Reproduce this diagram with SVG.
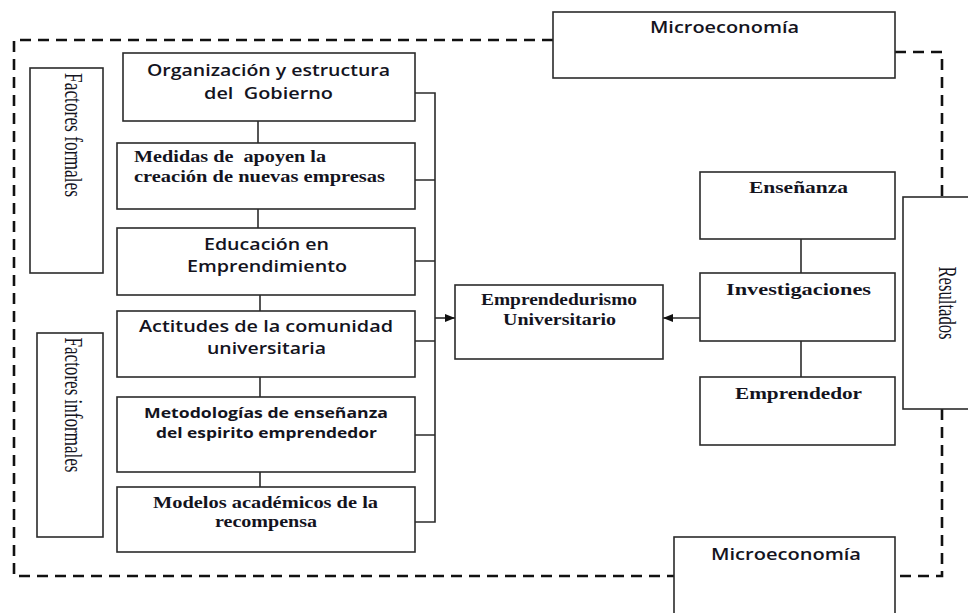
<svg xmlns="http://www.w3.org/2000/svg" width="968" height="613" viewBox="0 0 968 613">
<style>
.box{fill:#fff;stroke:#2b2b2b;stroke-width:1.6}
.ln{fill:none;stroke:#2b2b2b;stroke-width:1.6}
.dash{fill:none;stroke:#111;stroke-width:2.6;stroke-dasharray:11 7}
.s{font-family:"Open Sans","Liberation Sans",sans-serif;font-size:16px;font-weight:600;fill:#14141e}
.sb{font-family:"Open Sans","Liberation Sans",sans-serif;font-size:15px;font-weight:bold;fill:#14141e}
.r{font-family:"Liberation Serif","Times New Roman",serif;font-size:16px;font-weight:bold;fill:#14141e}
.rv{font-family:"Liberation Serif","Times New Roman",serif;font-size:17px;fill:#14141e}
</style>
<defs>
<marker id="ah" markerWidth="10" markerHeight="8" refX="10" refY="4" orient="auto" markerUnits="userSpaceOnUse">
<path d="M0,0 L10,4 L0,8 Z" fill="#111"/>
</marker>
</defs>
<rect width="968" height="613" fill="#fff"/>

<g id="frame">
<path class="dash" d="M553,40 H14 V576 H674"/>
<path class="dash" d="M895,52 H942 V197"/>
<path class="dash" d="M942,409 V576 H895"/>
</g>

<g id="connectors">
<line class="ln" x1="258" y1="121" x2="258" y2="143"/>
<line class="ln" x1="258" y1="209" x2="258" y2="228"/>
<line class="ln" x1="260" y1="295" x2="260" y2="311"/>
<line class="ln" x1="260" y1="377" x2="260" y2="397"/>
<line class="ln" x1="260" y1="472" x2="260" y2="487"/>
<path class="ln" d="M415,93 H435 V522 H415 M415,180 H435 M415,261 H435 M415,341 H435 M415,435 H435"/>
<line class="ln" x1="435" y1="318" x2="455" y2="318" marker-end="url(#ah)"/>
<line class="ln" x1="700" y1="318" x2="663" y2="318" marker-end="url(#ah)"/>
<line class="ln" x1="801" y1="239" x2="801" y2="273"/>
<line class="ln" x1="801" y1="341" x2="801" y2="377"/>
</g>

<g id="factores-formales">
<rect class="box" x="30" y="68" width="73" height="205"/>
<text class="rv" transform="translate(73,135) scale(1.45,1) rotate(90)" text-anchor="middle" dominant-baseline="central" textLength="124" lengthAdjust="spacingAndGlyphs">Factores formales</text>
</g>
<g id="factores-informales">
<rect class="box" x="37" y="333" width="66" height="204"/>
<text class="rv" transform="translate(73,405) scale(1.45,1) rotate(90)" text-anchor="middle" dominant-baseline="central" textLength="135" lengthAdjust="spacingAndGlyphs">Factores informales</text>
</g>

<g id="organizacion">
<rect class="box" x="123" y="53" width="292" height="68"/>
<text class="s" x="147" y="76" textLength="243" lengthAdjust="spacingAndGlyphs">Organización y estructura</text>
<text class="s" x="204" y="99" textLength="129" lengthAdjust="spacingAndGlyphs" xml:space="preserve">del  Gobierno</text>
</g>
<g id="medidas">
<rect class="box" x="117" y="143" width="298" height="66"/>
<text class="r" x="134" y="162" textLength="192" lengthAdjust="spacingAndGlyphs" xml:space="preserve">Medidas de  apoyen la</text>
<text class="r" x="134" y="182" textLength="251" lengthAdjust="spacingAndGlyphs">creación de nuevas empresas</text>
</g>
<g id="educacion">
<rect class="box" x="117" y="228" width="298" height="67"/>
<text class="s" x="204" y="250" textLength="125" lengthAdjust="spacingAndGlyphs">Educación en</text>
<text class="s" x="187" y="272" textLength="160" lengthAdjust="spacingAndGlyphs">Emprendimiento</text>
</g>
<g id="actitudes">
<rect class="box" x="117" y="311" width="298" height="66"/>
<text class="s" x="139" y="332" textLength="254" lengthAdjust="spacingAndGlyphs">Actitudes de la comunidad</text>
<text class="s" x="207" y="354" textLength="119" lengthAdjust="spacingAndGlyphs">universitaria</text>
</g>
<g id="metodologias">
<rect class="box" x="117" y="397" width="298" height="75"/>
<text class="sb" x="144" y="418" textLength="244" lengthAdjust="spacingAndGlyphs">Metodologías de enseñanza</text>
<text class="sb" x="156" y="438" textLength="221" lengthAdjust="spacingAndGlyphs">del espirito emprendedor</text>
</g>
<g id="modelos">
<rect class="box" x="117" y="487" width="298" height="65"/>
<text class="r" x="153" y="508" textLength="225" lengthAdjust="spacingAndGlyphs">Modelos académicos de la</text>
<text class="r" x="215" y="527" textLength="102" lengthAdjust="spacingAndGlyphs">recompensa</text>
</g>

<g id="emprendedurismo">
<rect class="box" x="455" y="285" width="208" height="74"/>
<text class="r" x="481" y="305" textLength="156" lengthAdjust="spacingAndGlyphs">Emprendedurismo</text>
<text class="r" x="503" y="325" textLength="113" lengthAdjust="spacingAndGlyphs">Universitario</text>
</g>

<g id="ensenanza">
<rect class="box" x="700" y="172" width="195" height="67"/>
<text class="r" x="749" y="193" textLength="99" lengthAdjust="spacingAndGlyphs">Enseñanza</text>
</g>
<g id="investigaciones">
<rect class="box" x="700" y="273" width="195" height="68"/>
<text class="r" x="726" y="295" textLength="145" lengthAdjust="spacingAndGlyphs">Investigaciones</text>
</g>
<g id="emprendedor">
<rect class="box" x="700" y="377" width="195" height="68"/>
<text class="r" x="735" y="399" textLength="127" lengthAdjust="spacingAndGlyphs">Emprendedor</text>
</g>

<g id="resultados">
<rect class="box" x="903" y="197" width="80" height="212"/>
<text class="rv" transform="translate(947,303) scale(1.45,1) rotate(90)" text-anchor="middle" dominant-baseline="central" textLength="73" lengthAdjust="spacingAndGlyphs">Resultados</text>
</g>

<g id="microeconomia-top">
<rect class="box" x="553" y="12" width="342" height="66"/>
<text class="s" x="650" y="33" textLength="149" lengthAdjust="spacingAndGlyphs">Microeconomía</text>
</g>
<g id="microeconomia-bottom">
<rect class="box" x="674" y="537" width="221" height="90"/>
<text class="s" x="711" y="560" textLength="150" lengthAdjust="spacingAndGlyphs">Microeconomía</text>
</g>
</svg>
